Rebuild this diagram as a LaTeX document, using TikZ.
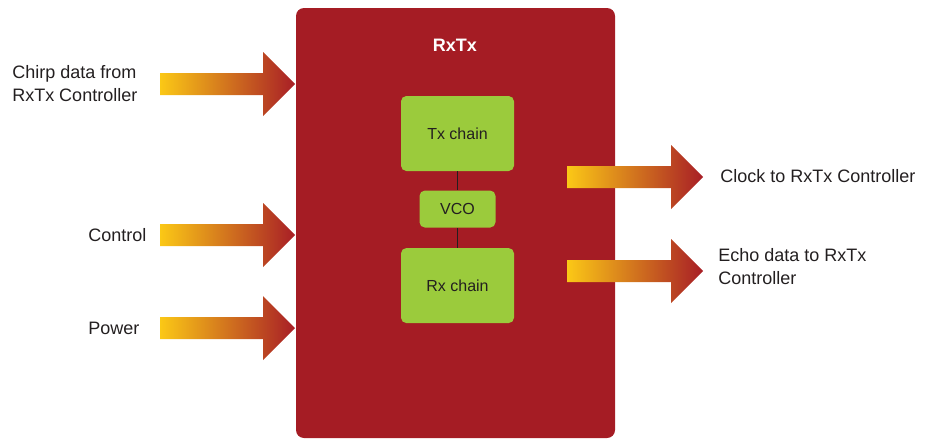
\documentclass[tikz,border=0pt]{standalone}
\usepackage{fontspec}
\setmainfont{Liberation Sans}
\usepackage{tikz}
\usetikzlibrary{positioning}
\usepackage{xcolor}
\definecolor{boxred}{HTML}{A51C24}
\definecolor{chaingreen}{HTML}{9BCB3C}
\definecolor{arrowyellow}{HTML}{FBC816}
\definecolor{arroworange}{HTML}{DE8A2C}
\definecolor{arrowred}{HTML}{A81E26}
\definecolor{textgray}{HTML}{231F20}

\begin{document}
\begin{tikzpicture}[x=0.75pt, y=-0.75pt,
  chain/.style={fill=chaingreen, rounded corners=4pt, text=textgray, font=\fontsize{12}{14}\selectfont},
  label/.style={font=\fontsize{13.5}{17.25}\selectfont, text=textgray, align=left, anchor=west, inner sep=0pt},
  fatarrow/.style={left color=arrowyellow, middle color=arroworange, right color=arrowred}
]
\useasboundingbox (0,0) rectangle (929,439);

% RxTx block
\node[fill=boxred, rounded corners=6pt, minimum width=239.25pt, minimum height=322.5pt] (rxtx) at (455.5,223) {};
\node[font=\fontsize{13.5}{16}\selectfont\bfseries, text=white] (title) at (455,45) {RxTx};

\node[chain, minimum width=84.75pt, minimum height=56.25pt] (tx) at (457.5,133.5) {Tx chain};
\node[chain, minimum width=57pt, minimum height=27.75pt, below=14.25pt of tx] (vco) {VCO};
\node[chain, minimum width=84.75pt, minimum height=56.25pt, below=15pt of vco] (rx) {Rx chain};

\draw[textgray, line width=1.1pt] (tx) -- (vco);
\draw[textgray, line width=1.1pt] (vco) -- (rx);

% inputs
\foreach \y in {84,235,328}
  \shade[fatarrow] (160,\y-11) -- (263,\y-11) -- (263,\y-32) -- (295,\y)
    -- (263,\y+32) -- (263,\y+11) -- (160,\y+11) -- cycle;

% outputs
\foreach \y in {177,271}
  \shade[fatarrow] (567,\y-11) -- (671,\y-11) -- (671,\y-32) -- (703,\y)
    -- (671,\y+32) -- (671,\y+11) -- (567,\y+11) -- cycle;

\node[label] (chirp) at (12,84) {Chirp data from\\RxTx Controller};
\node[label] (control) at (88,235) {Control};
\node[label] (power) at (88,328) {Power};
\node[label] (clock) at (720,176) {Clock to RxTx Controller};
\node[label] (echo) at (718,267) {Echo data to RxTx\\Controller};
\end{tikzpicture}
\end{document}
